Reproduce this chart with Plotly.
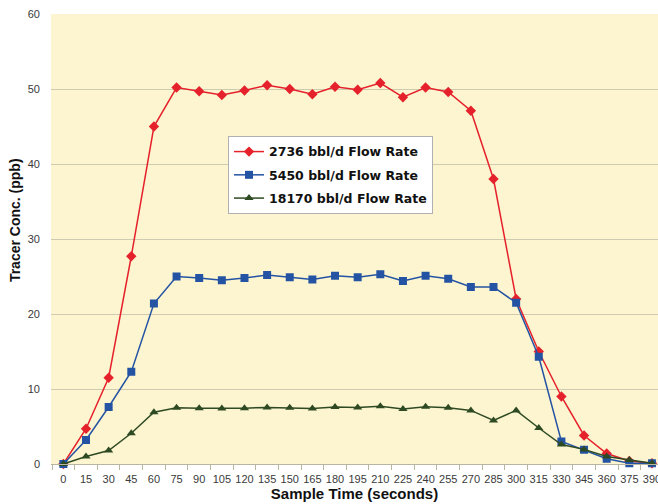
import plotly.graph_objects as go

time_s = [0, 15, 30, 45, 60, 75, 90, 105, 120, 135, 150, 165, 180, 195, 210,
          225, 240, 255, 270, 285, 300, 315, 330, 345, 360, 375, 390]

rate_2736 = [0, 4.7, 11.5, 27.7, 45.0, 50.2, 49.7, 49.2, 49.8, 50.5, 50.0, 49.3,
             50.3, 49.9, 50.8, 48.9, 50.2, 49.6, 47.1, 38.0, 22.0, 15.0, 9.0,
             3.8, 1.4, 0.4, 0.1]
rate_5450 = [0, 3.2, 7.6, 12.3, 21.4, 25.0, 24.8, 24.5, 24.8, 25.2, 24.9, 24.6,
             25.1, 24.9, 25.3, 24.4, 25.1, 24.7, 23.6, 23.6, 21.5, 14.3, 3.0,
             1.9, 0.7, 0.1, 0.1]
rate_18170 = [0, 1.0, 1.8, 4.1, 6.9, 7.5, 7.45, 7.4, 7.45, 7.55, 7.5, 7.4,
              7.6, 7.55, 7.7, 7.35, 7.65, 7.5, 7.15, 5.8, 7.15, 4.8, 2.6,
              1.95, 1.0, 0.55, 0.1]

series_names = ["2736 bbl/d Flow Rate", "5450 bbl/d Flow Rate", "18170 bbl/d Flow Rate"]

fig = go.Figure()
styles = [
    (rate_2736, "#e5212b", "diamond", 8),
    (rate_5450, "#2453a3", "square", 8),
    (rate_18170, "#2e4a22", "triangle-up", 8),
]
for i, (name, (vals, col, sym, sz)) in enumerate(zip(series_names, styles)):
    fig.add_trace(go.Scatter(
        x=time_s, y=vals, name=name, mode="lines+markers",
        legendgroup=f"g{i}",
        line=dict(color=col, width=1.5),
        marker=dict(symbol=sym, size=sz, color=col),
        cliponaxis=False,
    ))

step = time_s[1] - time_s[0]
minor_vals = [t - step / 2 for t in time_s] + [time_s[-1] + step / 2]

fig.update_layout(
    width=658, height=504,
    margin=dict(l=51, r=0, t=14, b=40),
    paper_bgcolor="white",
    plot_bgcolor="#fcf5d0",
    font=dict(family="Liberation Sans, Arial, sans-serif", size=11, color="#3a3a3a"),
    showlegend=True,
    legend=dict(
        x=0.2916, y=0.729, xanchor="left", yanchor="top",
        bgcolor="white", bordercolor="#b0b0b0", borderwidth=1,
        font=dict(family="DejaVu Sans, sans-serif", size=12.5, color="#111111",
                  weight="bold"),
        itemwidth=30, tracegroupgap=4,
    ),
    xaxis=dict(
        range=[-8.2, 394], tickmode="array", tickvals=time_s,
        ticktext=[str(t) for t in time_s],
        ticks="", showgrid=False, zeroline=False, automargin=False,
        ticklabeloverflow="allow",
        showline=True, linecolor="#b8b5a0", linewidth=1,
        ticklabelstandoff=5,
        minor=dict(tickmode="array", tickvals=minor_vals, ticks="outside",
                   ticklen=5, tickcolor="#b8b5a0", showgrid=False),
        title=dict(text="Sample Time (seconds)", standoff=1,
                   font=dict(size=15, color="#111111", weight="bold")),
    ),
    yaxis=dict(
        range=[0, 60], dtick=10, showgrid=True, gridcolor="#cfcbb0", gridwidth=1,
        zeroline=False, showline=False, ticks="", automargin=False,
        ticklabelstandoff=10,
    ),
    annotations=[dict(
        text="Tracer Conc. (ppb)", xref="paper", yref="paper",
        x=-0.0593, y=0.542, xanchor="center", yanchor="middle",
        textangle=-90, showarrow=False,
        font=dict(size=14, color="#111111", weight="bold"),
    )],
)

fig.write_html(
    "out.html",
    config={"displayModeBar": False},
    post_script="document.body.style.margin='0';document.body.style.overflow='hidden';",
)
